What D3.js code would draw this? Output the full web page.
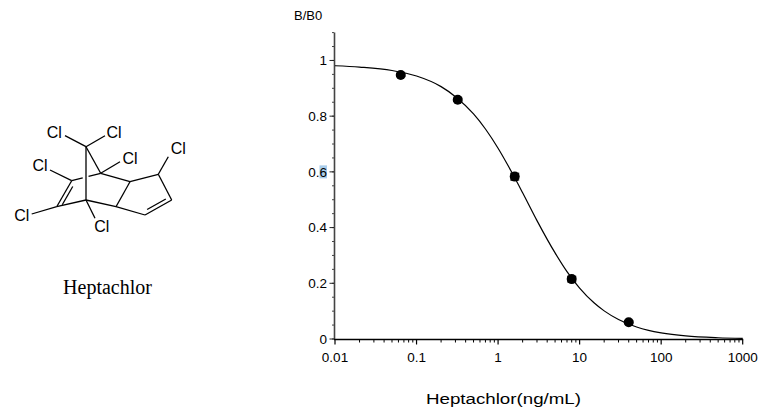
<!DOCTYPE html>
<html>
<head>
<meta charset="utf-8">
<script src="https://cdn.jsdelivr.net/npm/d3@7"></script>
<style>
  body { margin: 0; background: #fff; }
  text { font-family: "Liberation Sans", Arial, sans-serif; }
</style>
</head>
<body>
<div class="chart"></div>
<script>
// measured points (5-fold dilution series)
const concentrations = [0.064, 0.32, 1.6, 8, 40];
const bb0 = [0.948, 0.859, 0.583, 0.215, 0.060];
const errors = [0.005, 0.005, 0.012, 0.010, 0.004];

// fitted curve
const curveX = [0.01, 0.02, 0.05, 0.1, 0.2, 0.3, 0.5, 0.7, 1, 1.5, 2, 3, 5, 7, 10, 15, 20, 30, 50, 70, 100, 200, 500, 1000];
const curveY = [0.981, 0.976, 0.964, 0.944, 0.906, 0.870, 0.808, 0.754, 0.685, 0.594, 0.525, 0.425, 0.309, 0.242, 0.183, 0.130, 0.101, 0.070, 0.043, 0.031, 0.022, 0.011, 0.0045, 0.0022];

const xTicks = [0.01, 0.1, 1, 10, 100, 1000];
const xTickLabels = ['0.01', '0.1', '1', '10', '100', '1000'];
const yTicks = [0, 0.2, 0.4, 0.6, 0.8, 1];
const yTickLabels = ['0', '0.2', '0.4', '0.6', '0.8', '1'];

// heptachlor structure
const atoms = {
  C1: [86, 200], C2: [71.7, 180.7], C3: [56.7, 206.7], C4: [100.7, 173.3],
  C5: [130, 181.7], C6: [116, 206.7], C7: [86, 146.7], C8: [158.3, 174.3],
  C9: [171.7, 200], C10: [145, 215]
};
const bonds = [['C7','C1'], ['C7','C4'], ['C3','C1'], ['C1','C6'], ['C4','C5'],
  ['C5','C6'], ['C5','C8'], ['C8','C9'], ['C10','C6'], ['C2','C3'], ['C9','C10']];
const chlorines = [
  {atom: 'C7', end: [65, 135.7], label: [54.3, 132.3]},
  {atom: 'C7', end: [105, 135.7], label: [114, 132.3]},
  {atom: 'C4', end: [120, 161.7], label: [130, 158.3]},
  {atom: 'C2', end: [50, 170], label: [40, 165.7]},
  {atom: 'C3', end: [31.7, 214], label: [21.7, 215]},
  {atom: 'C1', end: [95, 218.3], label: [101.7, 226.7]},
  {atom: 'C8', end: [168.3, 156.7], label: [178.3, 148.3]}
];

const svg = d3.select('.chart').append('svg')
  .attr('width', 775).attr('height', 416);

function drawMolecule(){
  const g = svg.append('g')
    .style('stroke', '#000').style('stroke-width', 1.3).style('fill', 'none');
  bonds.forEach(b => {
    const a = atoms[b[0]], c = atoms[b[1]];
    g.append('line').attr('x1', a[0]).attr('y1', a[1]).attr('x2', c[0]).attr('y2', c[1]);
  });
  // C2-C4 passes behind the bridge, drawn with a gap
  const p2 = atoms.C2, p4 = atoms.C4;
  const lerp = t => [p2[0] + (p4[0] - p2[0]) * t, p2[1] + (p4[1] - p2[1]) * t];
  [[0, 0.38], [0.58, 1]].forEach(s => {
    const a = lerp(s[0]), c = lerp(s[1]);
    g.append('line').attr('x1', a[0]).attr('y1', a[1]).attr('x2', c[0]).attr('y2', c[1]);
  });
  // inner lines of the double bonds
  function inner(n1, n2, dx, dy){
    const a = atoms[n1], c = atoms[n2];
    const sx = (c[0] - a[0]) * 0.15, sy = (c[1] - a[1]) * 0.15;
    g.append('line')
      .attr('x1', a[0] + sx + dx).attr('y1', a[1] + sy + dy)
      .attr('x2', c[0] - sx + dx).attr('y2', c[1] - sy + dy);
  }
  inner('C2', 'C3', 3.3, 1.9);
  inner('C9', 'C10', -1.9, -3.3);
  chlorines.forEach(d => {
    const a = atoms[d.atom];
    g.append('line').attr('x1', a[0]).attr('y1', a[1]).attr('x2', d.end[0]).attr('y2', d.end[1]);
  });
  svg.append('g').selectAll('text').data(chlorines).join('text')
    .attr('x', d => d.label[0]).attr('y', d => d.label[1])
    .attr('text-anchor', 'middle').attr('dy', '0.36em')
    .style('font-size', '16px').text('Cl');
  svg.append('text').attr('x', 107.5).attr('y', 293.5)
    .attr('text-anchor', 'middle')
    .style('font-family', '"Liberation Serif", "Times New Roman", serif')
    .style('font-size', '20px').text('Heptachlor');
}

function drawChart(){
  const xScale = d3.scaleLog().domain([0.01, 1000]).range([335, 742.7]);
  const yScale = d3.scaleLinear().domain([0, 1.1]).range([339, 32.6]);

  // y axis
  const yAxis = svg.append('g');
  yAxis.append('line').attr('x1', 334.5).attr('x2', 334.5)
    .attr('y1', yScale(0)).attr('y2', yScale(1.1))
    .style('stroke', '#444').style('stroke-width', 1.6);
  const yMinor = d3.range(0, 1.1001, 0.05);
  yAxis.selectAll('.minor').data(yMinor).join('line').attr('class', 'minor')
    .attr('x1', 332).attr('x2', 334)
    .attr('y1', d => yScale(d)).attr('y2', d => yScale(d))
    .style('stroke', '#444').style('stroke-width', 1);
  yAxis.selectAll('.major').data(yTicks).join('line').attr('class', 'major')
    .attr('x1', 329.5).attr('x2', 334)
    .attr('y1', d => yScale(d)).attr('y2', d => yScale(d))
    .style('stroke', '#222').style('stroke-width', 1);
  // selection highlight behind the "6" of 0.6
  yAxis.append('rect').attr('x', 319.5).attr('y', yScale(0.6) - 6.5)
    .attr('width', 7.5).attr('height', 13).style('fill', '#a9cdeb');
  yAxis.selectAll('.lab').data(yTicks).join('text').attr('class', 'lab')
    .attr('x', 327).attr('y', d => yScale(d)).attr('dy', '0.36em')
    .attr('text-anchor', 'end').style('font-size', '13.5px')
    .text((d, i) => yTickLabels[i]);

  // x axis
  const xAxis = svg.append('g');
  xAxis.append('line').attr('x1', 334).attr('x2', xScale(1000) + 0.5)
    .attr('y1', 339.5).attr('y2', 339.5)
    .style('stroke', '#000').style('stroke-width', 1.4);
  const xMinor = [];
  xTicks.slice(0, -1).forEach(t => d3.range(2, 10).forEach(k => xMinor.push(t * k)));
  xAxis.selectAll('.minor').data(xMinor).join('line').attr('class', 'minor')
    .attr('x1', d => xScale(d)).attr('x2', d => xScale(d))
    .attr('y1', 339.5).attr('y2', 342.5)
    .style('stroke', '#000').style('stroke-width', 1);
  xAxis.selectAll('.major').data(xTicks).join('line').attr('class', 'major')
    .attr('x1', d => xScale(d)).attr('x2', d => xScale(d))
    .attr('y1', 339.5).attr('y2', 344.5)
    .style('stroke', '#000').style('stroke-width', 1.2);
  xAxis.selectAll('.lab').data(xTicks).join('text').attr('class', 'lab')
    .attr('x', d => xScale(d)).attr('y', 362)
    .attr('text-anchor', 'middle').style('font-size', '13.5px')
    .text((d, i) => xTickLabels[i]);

  svg.append('text').attr('x', 294).attr('y', 19.5)
    .style('font-size', '13px').text('B/B0');
  svg.append('text').attr('x', 426).attr('y', 403.5)
    .attr('textLength', 155).attr('lengthAdjust', 'spacingAndGlyphs')
    .style('font-size', '15.5px').text('Heptachlor(ng/mL)');

  // fitted curve
  const curveData = curveX.map((x, i) => ({x: x, y: curveY[i]}));
  const line = d3.line().x(d => xScale(d.x)).y(d => yScale(d.y)).curve(d3.curveMonotoneX);
  svg.append('path').datum(curveData).attr('d', line)
    .style('fill', 'none').style('stroke', '#000').style('stroke-width', 1.2);

  // points with error bars
  const pts = concentrations.map((c, i) => ({x: c, y: bb0[i], e: errors[i]}));
  const eg = svg.append('g').style('stroke', '#000').style('stroke-width', 1.2);
  pts.forEach(d => {
    const cx = xScale(d.x);
    eg.append('line').attr('x1', cx).attr('x2', cx)
      .attr('y1', yScale(d.y - d.e)).attr('y2', yScale(d.y + d.e));
    [d.y - d.e, d.y + d.e].forEach(v => {
      eg.append('line').attr('x1', cx - 4.5).attr('x2', cx + 4.5)
        .attr('y1', yScale(v)).attr('y2', yScale(v));
    });
  });
  svg.selectAll('.pt').data(pts).join('circle').attr('class', 'pt')
    .attr('cx', d => xScale(d.x)).attr('cy', d => yScale(d.y))
    .attr('r', 5).style('fill', '#000');
}

drawMolecule();
drawChart();
</script>
</body>
</html>
